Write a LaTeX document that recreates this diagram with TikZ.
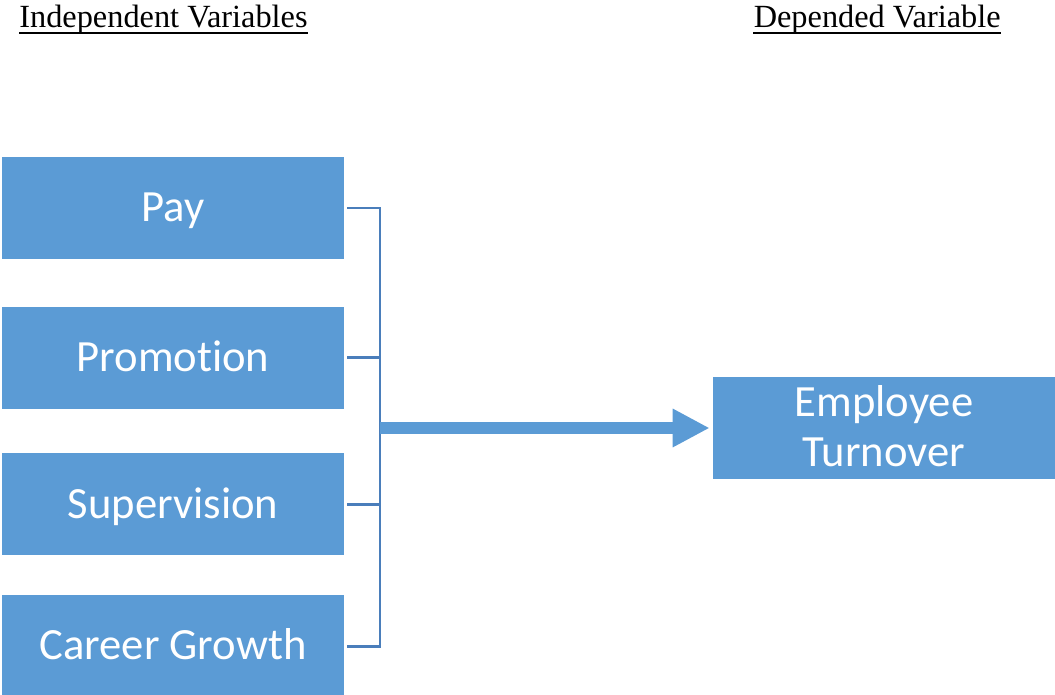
\documentclass[tikz,border=0pt]{standalone}
\usepackage{fontspec}
\setmainfont{Liberation Serif}
\newfontfamily\boxfont[Ligatures=NoCommon]{Carlito}
\usepackage{xcolor}
\usetikzlibrary{arrows.meta, positioning}

\definecolor{boxblue}{HTML}{5B9BD5}
\definecolor{linkblue}{HTML}{4A7EBB}

\begin{document}
\begin{tikzpicture}[
    % --- node styles ---
    var/.style={rectangle, minimum width=6.84cm, minimum height=2.04cm,
        inner sep=0pt, text centered, fill=boxblue, text=white,
        text height=20pt, text depth=4.2pt,
        font=\boxfont\fontsize{25.4}{28.5}\selectfont, align=center},
    head/.style={font=\fontsize{18.4}{21}\selectfont, inner sep=0pt},
    % --- connector styles ---
    uline/.style={draw=black, line width=1.1pt},
    brk/.style={draw=linkblue, line width=1.7pt},
    arr/.style={-{Triangle[length=0.74cm, width=0.72cm]}, draw=boxblue,
        line width=0.24cm},
    node distance=0.9cm
]
\useasboundingbox (0,0) rectangle (21.1,13.88);

%%% ================= HEADINGS =================
\node (h_ind) [head, anchor=base west] at (0.38,13.32)
    {Independent Variables};
\node (h_dep) [head, anchor=base east] at (20.02,13.32)
    {Depended Variable};
\draw [uline] ([yshift=-0.1cm]h_ind.base west) -- ([yshift=-0.1cm]h_ind.base east);
\draw [uline] ([yshift=-0.1cm]h_dep.base west) -- ([yshift=-0.1cm]h_dep.base east);

%%% ================= LEFT COLUMN =================
\node (pay)    [var] at (3.46,9.72) {Pay};
\node (promo)  [var, below=0.94cm of pay] {Promotion};
\node (superv) [var, below=0.88cm of promo] {Supervision};
\node (career) [var, below=0.78cm of superv] {Career Growth};

%%% ================= RIGHT COLUMN =================
\node (turnover) [var, text height=48.5pt] at (17.68,5.32) {Employee\\Turnover};

%%% ================= CONNECTORS =================
\coordinate (spine) at (7.6,0);

%% Bracket joining the four variables
\draw [brk] ([xshift=0.06cm]pay.east) -- (pay.east -| spine)
    -- (career.east -| spine) -- ([xshift=0.06cm]career.east);
\draw [brk] ([xshift=0.06cm]promo.east) -- (promo.east -| spine);
\draw [brk] ([xshift=0.06cm]superv.east) -- (superv.east -| spine);

%% Main arrow
\draw [arr] (turnover.west -| spine) -- ([xshift=-0.06cm]turnover.west);

\end{tikzpicture}
\end{document}
